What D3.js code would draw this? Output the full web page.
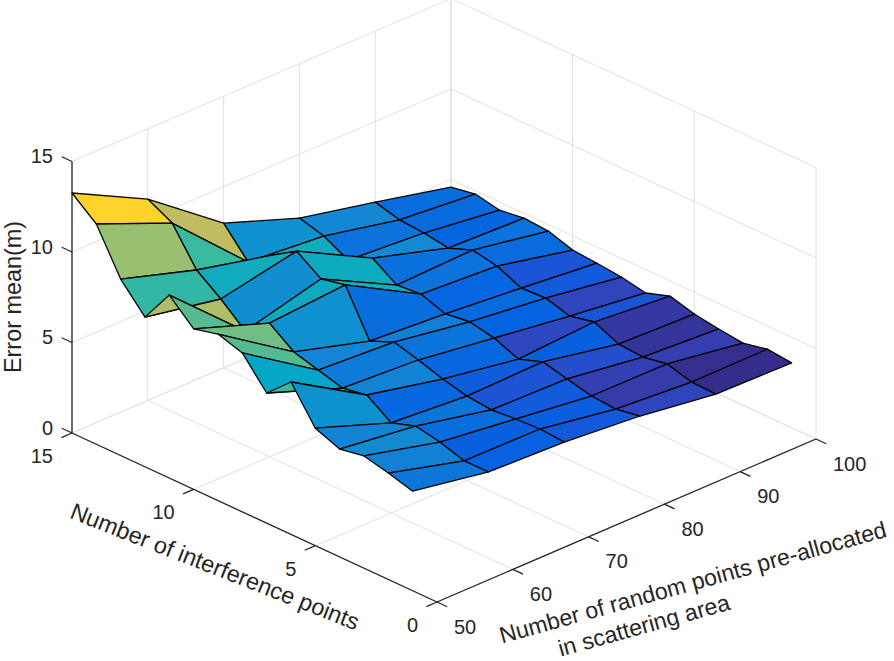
<!DOCTYPE html>
<html>
<head>
<meta charset="utf-8">
<script src="https://cdn.jsdelivr.net/npm/d3@7"></script>
<style>
html,body{margin:0;padding:0;background:#fff;}
svg{display:block;}
text{font-family:"Liberation Sans",Arial,sans-serif;fill:#262626;}
</style>
</head>
<body>
<svg id="chart" width="894" height="661"></svg>
<script>
// ---------- data ----------
const randomPoints = [50, 60, 70, 80, 90, 100];
const interferencePoints = [1,2,3,4,5,6,7,8,9,10,11,12,13,14,15];
// error mean for each number of random points, listed by interference points 1..15
const errorAt50  = [5.50,5.88,6.20,5.96,6.49,8.42,7.19,8.78,9.20,8.86,10.11,8.27,9.75,12.17,13.26];
const errorAt60  = [4.76,4.75,5.17,5.43,4.98,5.90,5.66,6.03,6.41,7.38,6.32,7.47,8.45,10.42,11.12];
const errorAt70  = [4.61,4.71,4.64,4.52,4.66,4.98,5.41,5.78,5.21,7.69,7.40,8.31,7.47,6.47,7.99];
const errorAt80  = [4.25,4.01,4.11,4.43,4.75,4.28,4.82,5.09,4.91,5.38,5.26,6.13,5.39,6.10,6.47];
const errorAt90  = [3.66,3.70,4.08,3.84,3.93,4.53,4.23,4.61,4.54,5.13,5.39,4.88,5.09,5.19,5.55];
const errorAt100 = [3.58,3.72,3.43,3.59,3.79,4.16,3.71,3.97,4.11,4.21,4.64,4.73,4.55,4.82,4.58];
const errorSeries = [errorAt50, errorAt60, errorAt70, errorAt80, errorAt90, errorAt100];

const xTicks = [50,60,70,80,90,100];
const yTicks = [0,5,10,15];
const zTicks = [0,5,10,15];
const xTitle = ["Number of random points pre-allocated","in scattering area"];
const yTitle = "Number of interference points";
const zTitle = "Error mean(m)";

// parula colour map
const parulaPos = [0,3/64,5/64,7/64,8/64,16/64,24/64,32/64,40/64,48/64,56/64,1];
const parulaCol = ["#352a87","#353dad","#2b4ac7","#0f5cdd","#0363e1","#1485d4","#06a7c6","#38b99e","#92bf73","#d9ba56","#fcce2e","#f9fb0e"];
const colorLimits = [3.6,13.26];

// ---------- projection: each data axis gets a pair of scales (screen dx, dy) ----------
const originX = 437, originY = 602;
const xDx = d3.scaleLinear().domain([50,100]).range([0,379]);
const xDy = d3.scaleLinear().domain([50,100]).range([0,-163]);
const yDx = d3.scaleLinear().domain([0,15]).range([0,-365]);
const yDy = d3.scaleLinear().domain([0,15]).range([0,-169]);
const zDy = d3.scaleLinear().domain([0,15]).range([0,-271.5]);
const project = (x,y,z) => [originX + xDx(x) + yDx(y), originY + xDy(x) + yDy(y) + zDy(z)];

const colorT = d3.scaleLinear().domain(colorLimits).range([0,1]).clamp(true);
const parula = d3.scaleLinear().domain(parulaPos).range(parulaCol).interpolate(d3.interpolateRgb);

const svg = d3.select("#chart");
const seg = (a,b) => ({a,b});

// ---------- grid on the back planes and the floor ----------
const xMin=50,xMax=100,yMin=0,yMax=15,zMin=0,zMax=15;
const grid = [];
xTicks.forEach(x=>{
  grid.push(seg(project(x,yMin,0),project(x,yMax,0)));
  grid.push(seg(project(x,yMax,zMin),project(x,yMax,zMax)));
});
yTicks.forEach(y=>{
  grid.push(seg(project(xMin,y,0),project(xMax,y,0)));
  grid.push(seg(project(xMax,y,zMin),project(xMax,y,zMax)));
});
zTicks.forEach(z=>{
  grid.push(seg(project(xMin,yMax,z),project(xMax,yMax,z)));
  grid.push(seg(project(xMax,yMin,z),project(xMax,yMax,z)));
});
svg.append("g").selectAll("line").data(grid).join("line")
  .attr("x1",d=>d.a[0]).attr("y1",d=>d.a[1]).attr("x2",d=>d.b[0]).attr("y2",d=>d.b[1])
  .attr("stroke","#e0e0e0").attr("stroke-width",1);

// ---------- axes ----------
const axisLines = [
  seg(project(xMin,yMin,0),project(xMax,yMin,0)),
  seg(project(xMin,yMin,0),project(xMin,yMax,0)),
  seg(project(xMin,yMax,zMin),project(xMin,yMax,zMax))
];
const tickLen = 0.028; // fraction of the axis span
const ticks = [];
xTicks.forEach(x=>ticks.push(seg(project(x,yMin,0),project(x,yMin-15*tickLen,0))));
yTicks.forEach(y=>ticks.push(seg(project(xMin,y,0),project(xMin-50*tickLen,y,0))));
zTicks.forEach(z=>ticks.push(seg(project(xMin,yMax,z),project(xMin,yMax+15*tickLen,z))));
svg.append("g").selectAll("line").data(axisLines.concat(ticks)).join("line")
  .attr("x1",d=>d.a[0]).attr("y1",d=>d.a[1]).attr("x2",d=>d.b[0]).attr("y2",d=>d.b[1])
  .attr("stroke","#262626").attr("stroke-width",1.3);

// ---------- surface: far faces first ----------
const faces = [];
for (let r = interferencePoints.length-2; r >= 0; r--) {
  for (let i = randomPoints.length-2; i >= 0; i--) {
    const x0=randomPoints[i], x1=randomPoints[i+1], y0=interferencePoints[r], y1=interferencePoints[r+1];
    faces.push({
      pts:[project(x0,y0,errorSeries[i][r]),project(x1,y0,errorSeries[i+1][r]),
           project(x1,y1,errorSeries[i+1][r+1]),project(x0,y1,errorSeries[i][r+1])],
      value:errorSeries[i][r]
    });
  }
}
const facePath = d3.line().curve(d3.curveLinearClosed);
svg.append("g").selectAll("path").data(faces).join("path")
  .attr("d",d=>facePath(d.pts))
  .attr("fill",d=>parula(colorT(d.value)))
  .attr("stroke","#050505").attr("stroke-width",1.3).attr("stroke-linejoin","round");

// ---------- tick labels ----------
const tickFont = 20;
const label = svg.append("g").attr("font-size",tickFont).attr("dominant-baseline","central");
label.selectAll(".zl").data(zTicks).join("text").attr("class","zl")
  .attr("x",d=>project(xMin,yMax,d)[0]-19).attr("y",d=>project(xMin,yMax,d)[1]-5.5)
  .attr("text-anchor","end").text(d=>d);
label.selectAll(".yl").data(yTicks).join("text").attr("class","yl")
  .attr("x",d=>project(xMin,d,0)[0]-19).attr("y",d=>project(xMin,d,0)[1]+23)
  .attr("text-anchor","end").text(d=>d);
label.selectAll(".xl").data(xTicks).join("text").attr("class","xl")
  .attr("x",d=>project(d,yMin,0)[0]+17).attr("y",d=>project(d,yMin,0)[1]+24.5)
  .attr("text-anchor","start").text(d=>d);

// ---------- axis titles ----------
const titleFont = 23.4;
svg.append("text").attr("font-size",titleFont).attr("text-anchor","middle")
  .attr("transform","translate(21,297) rotate(-90)").text(zTitle);
svg.append("text").attr("font-size",titleFont).attr("text-anchor","middle")
  .attr("transform","translate(212,574) rotate(21.5)").text(yTitle);
const xTitleAnchors = ["translate(695,590) rotate(-15.5)","translate(646,633) rotate(-15.5)"];
svg.append("g").attr("font-size",23.1).attr("text-anchor","middle")
  .selectAll("text").data(xTitle).join("text")
  .attr("transform",(d,i)=>xTitleAnchors[i]).text(d=>d);
</script>
</body>
</html>
